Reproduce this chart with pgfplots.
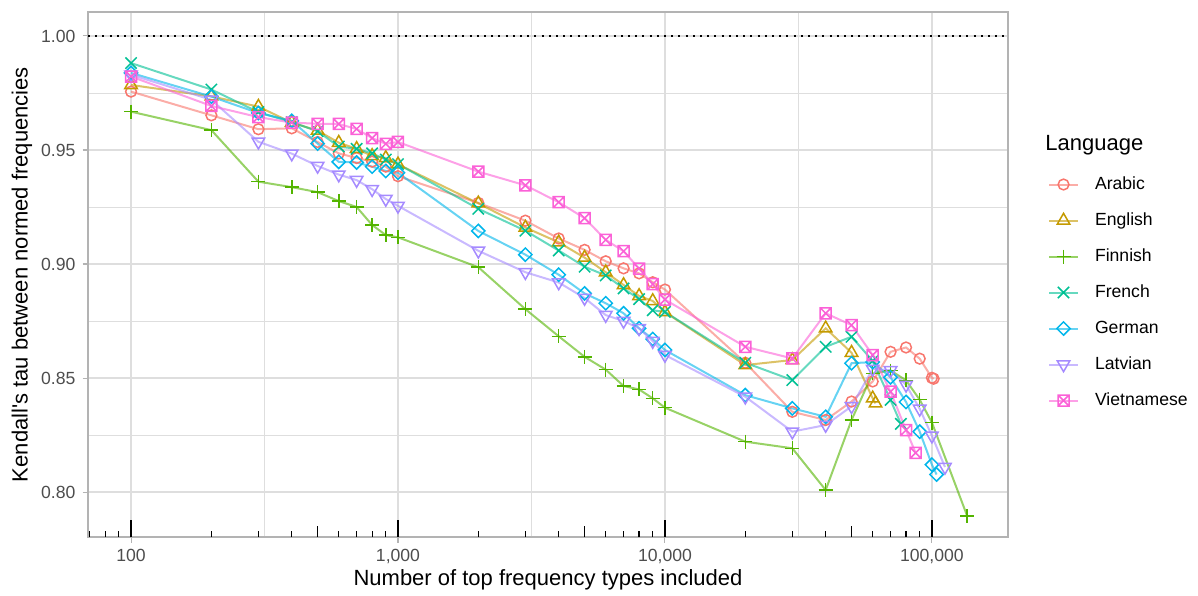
\documentclass[border=0pt]{standalone}
\usepackage{pgfplots}
\pgfplotsset{compat=1.18}
\usepackage{pgfplotstable}
\usepackage{fontspec}
\setmainfont{Liberation Sans}

\definecolor{cAr}{HTML}{F8766D}
\definecolor{cEn}{HTML}{C49A00}
\definecolor{cFi}{HTML}{53B400}
\definecolor{cFr}{HTML}{00C094}
\definecolor{cDe}{HTML}{00B6EB}
\definecolor{cLv}{HTML}{A58AFF}
\definecolor{cVi}{HTML}{FB61D7}
\definecolor{grey87}{HTML}{DEDEDE}
\definecolor{grey70}{HTML}{B3B3B3}
\definecolor{grey30}{HTML}{4D4D4D}

% square with a cross in it (ggplot shape 7)
\pgfdeclareplotmark{sqx}{%
  \pgfpathrectangle{\pgfqpoint{-\pgfplotmarksize}{-\pgfplotmarksize}}{\pgfqpoint{2\pgfplotmarksize}{2\pgfplotmarksize}}%
  \pgfpathmoveto{\pgfqpoint{-\pgfplotmarksize}{-\pgfplotmarksize}}%
  \pgfpathlineto{\pgfqpoint{\pgfplotmarksize}{\pgfplotmarksize}}%
  \pgfpathmoveto{\pgfqpoint{-\pgfplotmarksize}{\pgfplotmarksize}}%
  \pgfpathlineto{\pgfqpoint{\pgfplotmarksize}{-\pgfplotmarksize}}%
  \pgfusepathqstroke}

\pgfplotstableread{
n tau
100 0.9756
200 0.9652
300 0.9591
400 0.9595
500 0.9535
600 0.9485
700 0.9465
800 0.9449
900 0.9427
1000 0.9385
2000 0.9268
3000 0.9190
4000 0.9112
5000 0.9062
6000 0.9012
7000 0.8981
8000 0.8959
9000 0.8920
10000 0.8888
20000 0.8567
30000 0.8352
40000 0.8316
50000 0.8397
60000 0.8485
70000 0.8615
80000 0.8634
90000 0.8585
100000 0.8501
101500 0.8497
}\tAr
\pgfplotstableread{
n tau
100 0.9785
200 0.9735
300 0.9690
400 0.9620
500 0.9585
600 0.9532
700 0.9505
800 0.9474
900 0.9465
1000 0.9437
2000 0.9266
3000 0.9160
4000 0.9095
5000 0.9028
6000 0.8964
7000 0.8908
8000 0.8860
9000 0.8838
10000 0.8789
20000 0.8557
30000 0.8579
40000 0.8718
50000 0.8611
60000 0.8411
61500 0.8389
}\tEn
\pgfplotstableread{
n tau
100 0.9668
200 0.9587
300 0.9361
400 0.9337
500 0.9315
600 0.9276
700 0.9250
800 0.9171
900 0.9127
1000 0.9117
2000 0.8986
3000 0.8802
4000 0.8683
5000 0.8593
6000 0.8537
7000 0.8465
8000 0.8450
9000 0.8411
10000 0.8370
20000 0.8221
30000 0.8192
40000 0.8009
50000 0.8316
60000 0.8520
70000 0.8533
80000 0.8490
90000 0.8405
100000 0.8305
135600 0.7895
}\tFi
\pgfplotstableread{
n tau
100 0.9881
200 0.9765
300 0.9666
400 0.9622
500 0.9582
600 0.9515
700 0.9505
800 0.9485
900 0.9458
1000 0.9438
2000 0.9242
3000 0.9146
4000 0.9059
5000 0.8988
6000 0.8950
7000 0.8893
8000 0.8846
9000 0.8797
10000 0.8790
20000 0.8567
30000 0.8491
40000 0.8637
50000 0.8681
60000 0.8575
70000 0.8404
76500 0.8299
}\tFr
\pgfplotstableread{
n tau
100 0.9838
200 0.9734
300 0.9662
400 0.9628
500 0.9528
600 0.9448
700 0.9445
800 0.9427
900 0.9408
1000 0.9400
2000 0.9145
3000 0.9041
4000 0.8953
5000 0.8871
6000 0.8828
7000 0.8784
8000 0.8718
9000 0.8671
10000 0.8623
20000 0.8425
30000 0.8367
40000 0.8330
50000 0.8565
60000 0.8570
70000 0.8503
80000 0.8395
90000 0.8265
100000 0.8120
104100 0.8077
}\tDe
\pgfplotstableread{
n tau
100 0.9830
200 0.9720
300 0.9536
400 0.9484
500 0.9430
600 0.9392
700 0.9368
800 0.9328
900 0.9285
1000 0.9255
2000 0.9058
3000 0.8964
4000 0.8919
5000 0.8851
6000 0.8776
7000 0.8750
8000 0.8718
9000 0.8662
10000 0.8601
20000 0.8418
30000 0.8265
40000 0.8294
50000 0.8376
60000 0.8540
70000 0.8534
80000 0.8470
90000 0.8365
100000 0.8247
111900 0.8110
}\tLv
\pgfplotstableread{
n tau
100 0.9822
200 0.9693
300 0.9644
400 0.9620
500 0.9615
600 0.9614
700 0.9592
800 0.9552
900 0.9527
1000 0.9535
2000 0.9405
3000 0.9345
4000 0.9271
5000 0.9201
6000 0.9106
7000 0.9056
8000 0.8980
9000 0.8912
10000 0.8844
20000 0.8637
30000 0.8586
40000 0.8784
50000 0.8732
60000 0.8601
70000 0.8440
80000 0.8272
86900 0.8172
}\tVi

\pgfplotsset{
  ln/.style={forget plot, no markers, line width=1pt, draw opacity=0.6},
  pt/.style={only marks, line width=0.75pt, mark options={solid, draw opacity=1},
    legend image code/.code={%
      \draw[line width=1pt, draw opacity=0.6] (0pt,0pt) -- (14.5pt,0pt);
      \draw[only marks] plot coordinates {(7.25pt,0pt)};}},
}

\begin{document}
\begin{tikzpicture}
\path[use as bounding box] (0,0) rectangle (599pt,297.5pt);
\begin{axis}[
  at={(44pt,29pt)}, anchor=south west, scale only axis,
  width=460pt, height=262.5pt,
  xmode=log, log basis x=10,
  xmin=69, xmax=192800, ymin=0.7803, ymax=1.0105,
  xtick={100,1000,10000,100000},
  xticklabels={100,{1,000},{10,000},{100,000}},
  ytick={0.8,0.85,0.9,0.95,1},
  yticklabels={0.80,0.85,0.90,0.95,1.00},
  minor xtick={316.2278,3162.278,31622.78},
  minor ytick={0.825,0.875,0.925,0.975},
  grid=both,
  major grid style={grey87, line width=0.6pt},
  minor grid style={grey87, line width=0.35pt},
  tick align=outside, major tick length=2.75pt, minor tick length=0pt,
  tick style={grey70, line width=0.53pt},
  xtick pos=bottom, ytick pos=left,
  axis line style={grey70, line width=1pt},
  ticklabel style={font=\fontsize{8.8}{10}\selectfont, text=grey30},
  xlabel={Number of top frequency types included},
  ylabel={Kendall\textquotesingle s tau between normed frequencies},
  label style={font=\fontsize{11}{13}\selectfont},
  xlabel style={at={(axis description cs:0.5,-0.0819)}, anchor=center},
  ylabel style={at={(axis description cs:-0.0717,0.5)}, anchor=center},
  legend cell align=left,
  legend style={at={(axis description cs:1.0435,0.4657)}, anchor=west,
    draw=none, fill=none, inner sep=0pt, outer sep=0pt,
    font=\fontsize{8.8}{10}\selectfont, row sep=9.8pt, column sep=8pt,
    nodes={inner sep=0pt, text height=6.4pt, text depth=1.8pt}},
]
\addplot[forget plot, black, line width=1pt, dash pattern=on 1pt off 2.6pt] coordinates {(69,1) (192800,1)};

\addplot[ln, cAr] table {\tAr};
\addplot[ln, cEn] table {\tEn};
\addplot[ln, cFi] table {\tFi};
\addplot[ln, cFr] table {\tFr};
\addplot[ln, cDe] table {\tDe};
\addplot[ln, cLv] table {\tLv};
\addplot[ln, cVi] table {\tVi};

\addplot[pt, cAr, mark=o, mark size=2.7pt] table {\tAr};
\addlegendentry{Arabic}
\addplot[pt, cEn, mark=triangle, mark size=3.6pt] table {\tEn};
\addlegendentry{English}
\addplot[pt, cFi, mark=+, mark size=3.5pt] table {\tFi};
\addlegendentry{Finnish}
\addplot[pt, cFr, mark=x, mark size=4pt] table {\tFr};
\addlegendentry{French}
\addplot[pt, cDe, mark=square, mark size=2.35pt, mark options={rotate=45}] table {\tDe};
\addlegendentry{German}
\addplot[pt, cLv, mark=triangle, mark size=3.6pt, mark options={rotate=180}] table {\tLv};
\addlegendentry{Latvian}
\addplot[pt, cVi, mark=sqx, mark size=2.75pt] table {\tVi};
\addlegendentry{Vietnamese}

% log ticks along the bottom of the panel
\pgfplotsinvokeforeach{100,1000,10000,100000}{
  \draw[black, line width=0.6pt] (axis cs:#1,0.7803) -- ++(0pt,8.5pt);}
\pgfplotsinvokeforeach{500,5000,50000}{
  \draw[black, line width=0.6pt] (axis cs:#1,0.7803) -- ++(0pt,5.7pt);}
\pgfplotsinvokeforeach{70,80,90,200,300,400,600,700,800,900,2000,3000,4000,6000,7000,8000,9000,20000,30000,40000,60000,70000,80000,90000}{
  \draw[black, line width=0.6pt] (axis cs:#1,0.7803) -- ++(0pt,2.85pt);}
\end{axis}
\node[anchor=west, font=\fontsize{11}{13}\selectfont, inner sep=0pt] at (522.5pt,225pt) {Language};
\end{tikzpicture}
\end{document}
